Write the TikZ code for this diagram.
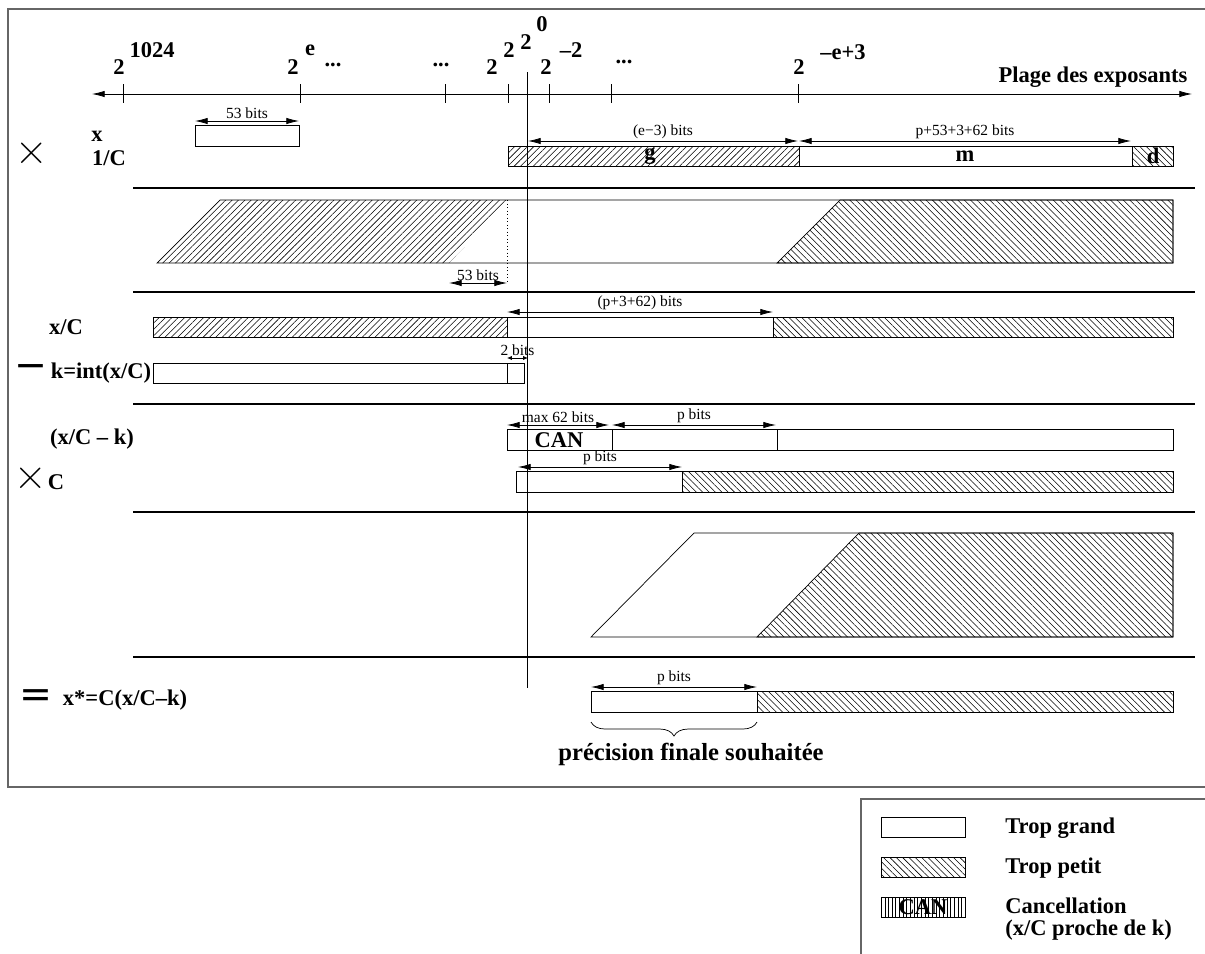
\documentclass[tikz,border=0pt]{standalone}
\usepackage{fontspec}
\newfontfamily\timesf{Liberation Serif}
\newfontfamily\symf{DejaVu Sans}
\usetikzlibrary{arrows.meta,patterns.meta,decorations.pathreplacing,positioning}

\tikzset{
  bar/.style={draw, line width=0.5pt},
  nehatch/.style={pattern={Lines[angle=45,distance=3.2pt,line width=0.4pt]}},
  nwhatch/.style={pattern={Lines[angle=-45,distance=3.2pt,line width=0.4pt]}},
  vhatch/.style={pattern={Lines[angle=90,distance=2.6pt,line width=0.4pt]}},
  sepline/.style={line width=2pt},
  dimline/.style={{Latex[length=9pt,width=4.5pt]}-{Latex[length=9pt,width=4.5pt]}, line width=0.5pt},
  bits/.style={font=\timesf\fontsize{11}{12}\selectfont, inner sep=1.5pt},
  lbl/.style={font=\timesf\bfseries\fontsize{16}{18}\selectfont, inner sep=0pt},
  opsign/.style={font=\symf\fontsize{28}{28}\selectfont, inner sep=0pt},
  crosssign/.style={font=\fontsize{32}{32}\selectfont, inner sep=0pt},
}

\begin{document}
\begin{tikzpicture}[x=0.025cm, y=-0.025cm, line width=0.5pt]
  \useasboundingbox (0,0) rectangle (1205,954);

  % cadres
  \draw[black!60, line width=0.8pt] (1205,9) -- (8,9) -- (8,787) -- (1205,787);
  \draw[black!60, line width=0.8pt] (1205,799) -- (861,799) -- (861,954);

  % axe des exposants
  \coordinate (axL) at (92,94);
  \coordinate (axR) at (1192,94);
  \draw[{Latex[length=9pt,width=4.5pt]}-{Latex[length=9pt,width=4.5pt]}] (axL) -- (axR);
  \foreach \t in {123,300,445,508,549,611,798}
    \draw (\t,84) -- (\t,103);
  \coordinate (zeroT) at (527,72);
  \coordinate (zeroB) at (527,688);
  \draw (zeroT) -- (zeroB);

  \node[lbl] (b1024) at (119,67) {2};
  \node[lbl] (p1024) at (152,50) {1024};
  \node[lbl] (be) at (293,67) {2};
  \node[lbl] (pe) at (310,50) {e};
  \node[lbl] (dotsA) at (333,65) {...};
  \node[lbl] (dotsB) at (441,65) {...};
  \node[lbl] (btwo) at (492,67) {2};
  \node[lbl] (ptwo) at (509,50) {2};
  \node[lbl] (bzero) at (526,42) {2};
  \node[lbl] (pzero) at (542,24) {0};
  \node[lbl] (bmtwo) at (546,67) {2};
  \node[lbl] (pmtwo) at (571,50) {–2};
  \node[lbl] (dotsC) at (624,62) {...};
  \node[lbl] (bme) at (799,67) {2};
  \node[lbl] (pme) at (843,52) {–e+3};
  \node[lbl] (axlbl) at (1093,77) {Plage des exposants};

  % operandes x et 1/C
  \node[crosssign] (times1) at (32,154) {×};
  \node[lbl] (xlbl) at (97,136) {x};
  \node[lbl] (invc) at (109,158) {1/C};
  \draw[bar] (195,125) rectangle (299,146);
  \draw[bar, nehatch] (508,146) rectangle (799,166);
  \draw[bar] (799,146) rectangle (1132,166);
  \draw[bar, nwhatch] (1132,146) rectangle (1173,166);
  \node[lbl] (glbl) at (650,156) {g};
  \node[lbl] (mlbl) at (965,156) {m};
  \node[lbl] (dlbl) at (1153,156) {d};

  \draw[sepline] (133,188) -- (1195,188);

  % produit
  \draw[bar] (157,263) -- (220,200) -- (1173,200) -- (1173,263) -- cycle;
  \fill[nehatch] (157,263) -- (220,200) -- (510,200) -- (449,263) -- cycle;
  \draw[nwhatch] (777,263) -- (840,200) -- (1173,200) -- (1173,263) -- cycle;
  \draw[dotted] (507,200) -- (507,283);

  \draw[sepline] (133,292) -- (1195,292);

  % x/C et k
  \node[lbl] (xc) at (66,327) {x/C};
  \draw[bar, nehatch] (153,317) rectangle (507,337);
  \draw[bar] (507,317) rectangle (773,337);
  \draw[bar, nwhatch] (773,317) rectangle (1173,337);

  \node[opsign] (minus1) at (31,372) {−};
  \node[lbl] (klbl) at (101,373) {k=int(x/C)};
  \draw[bar] (153,363) rectangle (507,383);
  \draw[bar] (507,363) rectangle (524,383);

  \draw[sepline] (133,404) -- (1195,404);

  % x/C - k et C
  \node[lbl] (xck) at (92,439) {(x/C – k)};
  \draw[bar] (507,429) rectangle (612,450);
  \node[lbl] (can) at (559,440) {CAN};
  \draw[bar] (612,429) rectangle (777,450);
  \draw[bar] (777,429) rectangle (1173,450);

  \node[crosssign] (times2) at (31,479) {×};
  \node[lbl] (clbl) at (56,482) {C};
  \draw[bar] (516,471) rectangle (682,492);
  \draw[bar, nwhatch] (682,471) rectangle (1173,492);

  \draw[sepline] (133,512) -- (1195,512);

  % produit final
  \draw[bar] (591,637) -- (694,533) -- (1173,533) -- (1173,637) -- cycle;
  \draw[nwhatch] (757,637) -- (859,533) -- (1173,533) -- (1173,637) -- cycle;

  \draw[sepline] (133,657) -- (1195,657);

  % resultat
  \node[opsign] (equal1) at (36,699) {=};
  \node[lbl] (res) at (125,700) {x*=C(x/C–k)};
  \draw[bar] (591,691) rectangle (757,712);
  \draw[bar, nwhatch] (757,691) rectangle (1173,712);
  \coordinate (brL) at (591,722);
  \coordinate (brR) at (757,722);
  \draw[decorate, decoration={brace, mirror, amplitude=10pt}] (brL) -- (brR);
  \node[lbl, font=\timesf\bfseries\fontsize{17.5}{20}\selectfont] (prec) at (691,754) {précision finale souhaitée};

  % cotes
  \foreach \a/\b/\y/\t/\n in {195/299/121/53 bits/dA, 528/798/141/(e−3) bits/dB,
      799/1131/141/p+53+3+62 bits/dC, 449/507/283/53 bits/dD,
      507/773/312/(p+3+62) bits/dE, 507/609/425/max 62 bits/dF,
      612/776/425/p bits/dG, 518/682/467/p bits/dH, 591/757/687/p bits/dI} {
    \coordinate (\n-a) at (\a,\y);
    \coordinate (\n-b) at (\b,\y);
    \draw[dimline] (\n-a) -- node[bits, above] (\n-l) {\t} (\n-b);
  }
  \coordinate (dJ-a) at (507,358);
  \coordinate (dJ-b) at (528,358);
  \draw[{Latex[length=3.5pt,width=3pt]}-{Latex[length=3.5pt,width=3pt]}] (dJ-a) -- node[bits, above] (dJ-l) {2 bits} (dJ-b);

  % legende
  \draw[bar] (881,817) rectangle (965,837);
  \draw[bar, nwhatch] (881,857) rectangle (965,877);
  \draw[bar, vhatch] (881,897) rectangle (965,917);
  \node[lbl] (lgcan) at (923,907) {CAN};
  \node[lbl, anchor=west] (lgA) at (1005,828) {Trop grand};
  \node[lbl, anchor=west] (lgB) at (1005,868) {Trop petit};
  \node[lbl, anchor=west, align=left, font=\timesf\bfseries\fontsize{16}{16}\selectfont] (lgC) at (1005,919) {Cancellation\\(x/C proche de k)};
\end{tikzpicture}
\end{document}
